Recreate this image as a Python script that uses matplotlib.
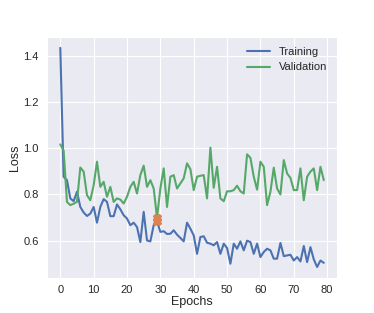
import numpy as np
import matplotlib
matplotlib.use("Agg")
import matplotlib.pyplot as plt
import seaborn as sns

# ==========================================================
# DATA
# ==========================================================

epochs = np.arange(80)

train_loss = [
    1.435, 0.877, 0.862, 0.783, 0.771, 0.812, 0.746, 0.722, 0.707, 0.717,
    0.746, 0.678, 0.746, 0.780, 0.768, 0.706, 0.706, 0.757, 0.736, 0.710,
    0.696, 0.667, 0.678, 0.659, 0.594, 0.725, 0.601, 0.597, 0.667, 0.684,
    0.638, 0.641, 0.629, 0.630, 0.645, 0.626, 0.612, 0.597, 0.678, 0.652,
    0.623, 0.543, 0.616, 0.619, 0.591, 0.587, 0.580, 0.594, 0.543, 0.587,
    0.568, 0.500, 0.587, 0.565, 0.597, 0.558, 0.600, 0.594, 0.543, 0.587,
    0.529, 0.551, 0.565, 0.558, 0.522, 0.522, 0.590, 0.533, 0.536, 0.539,
    0.514, 0.529, 0.510, 0.577, 0.507, 0.572, 0.519, 0.486, 0.514, 0.504,
]

val_loss = [
    1.017, 0.990, 0.768, 0.754, 0.760, 0.768, 0.917, 0.899, 0.797, 0.775,
    0.840, 0.942, 0.833, 0.855, 0.790, 0.833, 0.768, 0.783, 0.778, 0.761,
    0.790, 0.833, 0.855, 0.804, 0.884, 0.925, 0.833, 0.862, 0.826, 0.700,
    0.826, 0.913, 0.746, 0.877, 0.884, 0.826, 0.848, 0.870, 0.935, 0.910,
    0.819, 0.877, 0.881, 0.884, 0.783, 1.003, 0.829, 0.920, 0.783, 0.771,
    0.814, 0.814, 0.819, 0.838, 0.814, 0.804, 0.974, 0.959, 0.877, 0.821,
    0.942, 0.920, 0.754, 0.812, 0.916, 0.826, 0.800, 0.949, 0.891, 0.872,
    0.819, 0.819, 0.913, 0.775, 0.877, 0.899, 0.913, 0.819, 0.920, 0.862,
]

best_epoch = 29

# ==========================================================
# STYLE
# ==========================================================

sns.set_style("darkgrid")
plt.rcParams["font.family"] = ["Liberation Sans", "DejaVu Sans"]
plt.rcParams["font.size"] = 8

fig = plt.figure(figsize=(3.74, 3.13), dpi=100)
ax = fig.add_axes([0.126, 0.112, 0.775, 0.770])

# ==========================================================
# PLOT
# ==========================================================

ax.plot(epochs, train_loss, color="#4C72B0", linewidth=1.5, label="Training")
ax.plot(epochs, val_loss, color="#55A868", linewidth=1.5, label="Validation")

ax.plot(
    [best_epoch, best_epoch],
    [val_loss[best_epoch], train_loss[best_epoch]],
    linestyle="none",
    marker="X",
    markersize=6,
    color="#DD8452",
)

ax.set_xlabel("Epochs", fontsize=9, labelpad=1)
ax.set_ylabel("Loss", fontsize=9, labelpad=2)
ax.set_xticks(range(0, 81, 10))
ax.set_yticks([0.6, 0.8, 1.0, 1.2, 1.4])
ax.tick_params(axis="x", labelsize=8, pad=1.5)
ax.tick_params(axis="y", labelsize=8, pad=2.5)

ax.legend(loc="upper right", frameon=False, fontsize=8)

fig.savefig("out.png", dpi=100)
